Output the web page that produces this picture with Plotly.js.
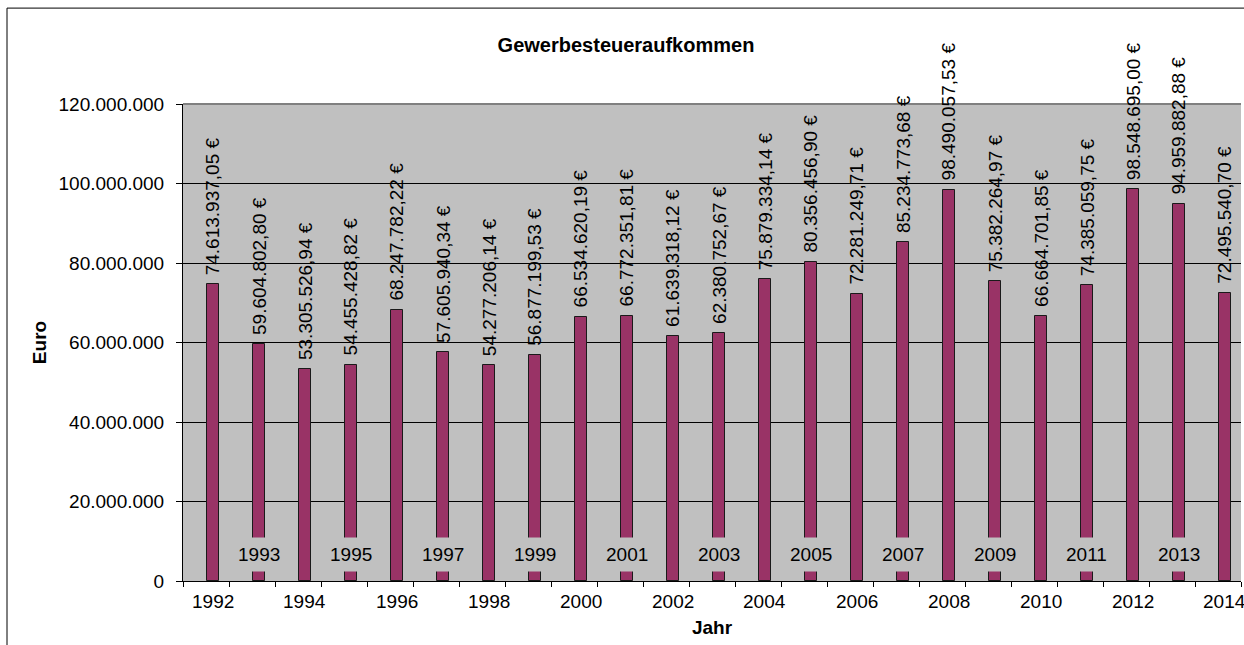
<!DOCTYPE html>
<html>
<head>
<meta charset="utf-8">
<script src="https://cdn.plot.ly/plotly-3.0.1.min.js"></script>
<style>html,body{margin:0;padding:0;background:#fff;}#chart{width:1244px;height:645px;}</style>
</head>
<body>
<div id="chart"></div>
<script>
// ---- data ----
const years = [1992,1993,1994,1995,1996,1997,1998,1999,2000,2001,2002,2003,2004,2005,2006,2007,2008,2009,2010,2011,2012,2013,2014];
const values = [74613937.05,59604802.80,53305526.94,54455428.82,68247782.22,57605940.34,54277206.14,56877199.53,66534620.19,66772351.81,61639318.12,62380752.67,75879334.14,80356456.90,72281249.71,85234773.68,98490057.53,75382264.97,66664701.85,74385059.75,98548695.00,94959882.88,72495540.70];
const yTickVals = [0,20000000,40000000,60000000,80000000,100000000,120000000];
const chartTitle = 'Gewerbesteueraufkommen';
const xTitle = 'Jahr';
const yTitle = 'Euro';

// ---- layout geometry (pixels) ----
const W = 1244, H = 645;
const L = 183, R = 3, T = 104, B = 63.5;
const plotW = W - L - R, plotH = H - T - B;
const FONT = 'Liberation Sans, Arial, sans-serif';
const px2paperX = p => (p - L) / plotW;
const px2paperY = p => (H - B - p) / plotH;

function fmt(v) {
  let parts = v.toFixed(2).split('.');
  let intPart = parts[0].replace(/\B(?=(\d{3})+(?!\d))/g, '.');
  return intPart + ',' + parts[1] + ' \u20AC';
}

const annotations = [];
// value labels
years.forEach((yr, i) => {
  annotations.push({
    x: yr, y: values[i], xref: 'x', yref: 'y',
    text: fmt(values[i]), textangle: -90, showarrow: false,
    xanchor: 'center', yanchor: 'bottom', yshift: 7,
    font: {family: FONT, size: 19, color: '#000'}
  });
});
// category labels (Excel-style staggered)
years.forEach((yr, i) => {
  const odd = i % 2 === 1;
  annotations.push({
    x: yr, xref: 'x', yref: 'paper',
    y: odd ? px2paperY(555) : px2paperY(602),
    text: String(yr), showarrow: false,
    xanchor: 'center', yanchor: 'middle',
    bgcolor: odd ? '#c0c0c0' : 'rgba(0,0,0,0)',
    borderpad: odd ? 6 : 1,
    font: {family: FONT, size: 19, color: '#000'}
  });
});

const trace = {
  type: 'bar', x: years, y: values,
  width: 0.27,
  marker: {color: '#993366', line: {color: '#1a1a1a', width: 1}},
  hoverinfo: 'x+y'
};

const layout = {
  width: W, height: H,
  margin: {l: L, r: R, t: T, b: B, pad: 0},
  paper_bgcolor: '#ffffff', plot_bgcolor: '#c0c0c0',
  separators: ',.',
  showlegend: false,
  font: {family: FONT, size: 19, color: '#000'},
  title: {
    text: chartTitle, xref: 'container', yref: 'container',
    x: 626 / W, xanchor: 'center', y: 1 - 45 / H, yanchor: 'middle',
    font: {family: FONT, size: 20, weight: 'bold', color: '#000'}
  },
  xaxis: {
    range: [years[0] - 0.65, years[years.length - 1] + 0.35],
    tickmode: 'array', tickvals: years.map(y => y - 0.65).concat([years[years.length-1] + 0.35]),
    showticklabels: false, ticks: 'outside', ticklen: 5, tickcolor: '#000',
    showgrid: false, zeroline: false, showline: true, linecolor: '#000', linewidth: 1,
    title: {text: xTitle, standoff: 34, font: {family: FONT, size: 19, weight: 'bold'}},
    fixedrange: true
  },
  yaxis: {
    range: [0, 120000000], tickmode: 'array', tickvals: yTickVals,
    tickformat: ',d', ticks: 'outside', ticklen: 6, tickcolor: '#000',
    ticklabelstandoff: 8,
    showgrid: true, gridcolor: '#000', gridwidth: 1,
    zeroline: false, showline: true, linecolor: '#000', linewidth: 1,
    tickfont: {family: FONT, size: 19},
    title: {text: yTitle, standoff: 6, font: {family: FONT, size: 19, weight: 'bold'}},
    fixedrange: true
  },
  shapes: [
    {type: 'line', xref: 'paper', yref: 'paper', x0: 0, x1: 1, y0: 1, y1: 1, line: {color: '#808080', width: 2}},
    {type: 'line', xref: 'paper', yref: 'paper', x0: px2paperX(7), x1: px2paperX(W + 5), y0: px2paperY(8), y1: px2paperY(8), line: {color: '#000', width: 1}},
    {type: 'line', xref: 'paper', yref: 'paper', x0: px2paperX(7), x1: px2paperX(7), y0: px2paperY(8), y1: px2paperY(H + 5), line: {color: '#000', width: 1}}
  ],
  annotations: annotations,
  bargap: 0
};

Plotly.newPlot('chart', [trace], layout, {displayModeBar: false, responsive: false});
</script>
</body>
</html>
